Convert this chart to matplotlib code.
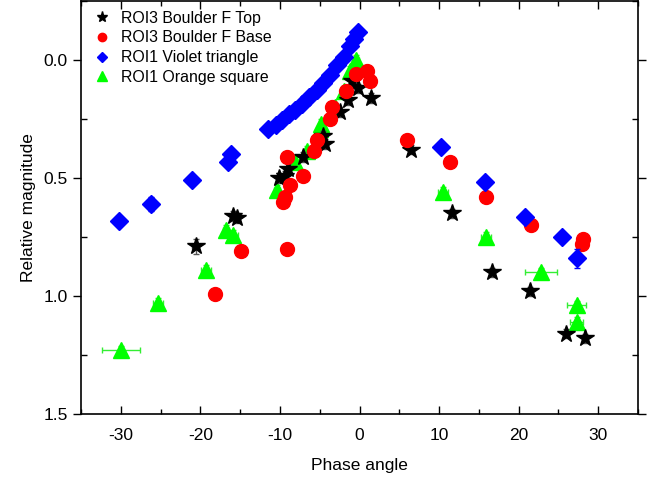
import matplotlib
matplotlib.use("Agg")
import matplotlib.pyplot as plt
from matplotlib.ticker import MultipleLocator
from matplotlib.lines import Line2D

plt.rcParams['font.family'] = ['Liberation Sans', 'DejaVu Sans']
plt.rcParams['axes.unicode_minus'] = False

# ROI3 Boulder F Top (black stars)
top_x = [-20.6, -15.9, -15.4, -10.1, -9.4, -9.0, -7.1, -4.6, -4.3, -2.5, -1.4, -1.0,
         -0.2, 1.4, 6.5, 11.6, 16.7, 21.4, 26.0, 28.3]
top_y = [0.79, 0.66, 0.67, 0.50, 0.49, 0.46, 0.41, 0.32, 0.355, 0.22, 0.17, 0.09,
         0.12, 0.16, 0.38, 0.65, 0.90, 0.98, 1.16, 1.18]
top_xerr = [0.4, 0.4, 0.4, 0.3, 0.3, 0.3, 0.3, 0.3, 0.3, 0.3, 0.3, 0.3,
            0.3, 0.3, 0.3, 0.3, 0.3, 0.3, 0.3, 0.3]
top_yerr = [0.03, 0.02, 0.02, 0.02, 0.02, 0.02, 0.02, 0.02, 0.02, 0.02, 0.02, 0.02,
            0.02, 0.02, 0.02, 0.02, 0.02, 0.02, 0.02, 0.02]

# ROI3 Boulder F Base (red circles)
base_x = [-18.1, -14.9, -9.6, -9.4, -9.1, -9.1, -8.7, -7.1, -5.7, -5.4, -3.7, -3.4,
          -1.7, -0.4, 0.9, 1.3, 6.0, 11.4, 15.9, 21.6, 28.0, 28.1]
base_y = [0.99, 0.81, 0.60, 0.58, 0.41, 0.80, 0.53, 0.49, 0.385, 0.34, 0.25, 0.20,
          0.13, 0.06, 0.046, 0.09, 0.34, 0.43, 0.58, 0.70, 0.78, 0.76]
base_xerr = [0.3, 0.3, 0.3, 0.3, 0.3, 0.3, 0.3, 0.3, 0.3, 0.3, 0.3, 0.3,
             0.3, 0.3, 0.3, 0.3, 0.3, 0.3, 0.3, 0.7, 0.7, 0.3]
base_yerr = [0.02] * 22

# ROI1 Violet triangle (blue diamonds)
violet_x = [-30.2, -26.2, -21.1, -16.5, -16.1, -11.5, -10.5, -9.7, -8.9, -8.1, -7.2,
            -6.4, -5.4, -4.6, -3.7, -2.8, -2.0, -1.2, -0.7, -0.2,
            10.3, 15.8, 20.8, 25.5, 27.3]
violet_y = [0.68, 0.61, 0.51, 0.43, 0.40, 0.29, 0.275, 0.255, 0.23, 0.21, 0.185,
            0.155, 0.125, 0.095, 0.065, 0.02, -0.015, -0.06, -0.09, -0.12,
            0.37, 0.515, 0.665, 0.75, 0.84]
violet_xerr = [0.3] * 25
violet_yerr = [0.02, 0.03, 0.02, 0.02, 0.02, 0.02, 0.02, 0.02, 0.02, 0.02, 0.02,
               0.02, 0.02, 0.02, 0.02, 0.02, 0.02, 0.02, 0.02, 0.02,
               0.02, 0.02, 0.02, 0.02, 0.04]

# ROI1 Orange square (green triangles)
orange_x = [-30.0, -25.3, -19.3, -16.8, -15.9, -10.4, -8.1, -6.6, -5.0, -4.8, -3.1,
            -2.0, -1.2, -0.4, 10.5, 15.9, 22.8, 27.3, 27.3]
orange_y = [1.23, 1.03, 0.89, 0.72, 0.74, 0.55, 0.43, 0.385, 0.29, 0.27, 0.20,
            0.13, 0.046, 0.00, 0.56, 0.75, 0.90, 1.04, 1.11]
orange_xerr = [2.4, 0.6, 0.6, 0.4, 0.6, 0.4, 0.3, 0.3, 0.3, 0.3, 0.3,
               0.3, 0.3, 0.3, 0.6, 0.6, 2.0, 1.2, 0.8]
orange_yerr = [0.02] * 19

fig = plt.figure(figsize=(6.6, 4.79), dpi=100)
ax = fig.add_axes([0.1227, 0.1357, 0.8440, 0.8620])

ek = dict(linestyle='none', elinewidth=1.0, capsize=2.5, capthick=1.0)
ax.errorbar(orange_x, orange_y, xerr=orange_xerr, yerr=orange_yerr, marker='^',
            ms=11, color='#00ff00', ecolor='#33ee33', zorder=2, **ek)
ax.errorbar(top_x, top_y, xerr=top_xerr, yerr=top_yerr, marker='*',
            ms=13, color='black', ecolor='#555555', zorder=3, **ek)
ax.errorbar(base_x, base_y, xerr=base_xerr, yerr=base_yerr, marker='o',
            ms=10, color='#ff0000', ecolor='#ff0000', zorder=4, **ek)
ax.errorbar(violet_x, violet_y, xerr=violet_xerr, yerr=violet_yerr, marker='D',
            ms=9, color='#0000ff', ecolor='#0000ff', zorder=5, **ek)

ax.set_xlim(-35, 35)
ax.set_ylim(1.5, -0.25)
ax.xaxis.set_major_locator(MultipleLocator(10))
ax.xaxis.set_minor_locator(MultipleLocator(5))
ax.yaxis.set_major_locator(MultipleLocator(0.5))
ax.yaxis.set_minor_locator(MultipleLocator(0.25))
ax.yaxis.set_major_formatter(matplotlib.ticker.FormatStrFormatter('%.1f'))

ax.tick_params(axis='x', which='both', direction='in', top=True, labelsize=12.5,
               pad=10)
ax.tick_params(axis='x', which='major', length=6, width=1)
ax.tick_params(axis='x', which='minor', length=3.5, width=1)
ax.tick_params(axis='y', which='major', direction='out', length=6, width=1,
               labelsize=12.5)
ax.tick_params(axis='y', which='minor', direction='in', length=4, width=1)
ax.tick_params(axis='y', which='both', right=True)
for s in ax.spines.values():
    s.set_linewidth(1.2)

ax.set_xlabel('Phase angle', fontsize=12.5, labelpad=11)
ax.set_ylabel('Relative magnitude', fontsize=12.5, labelpad=5)

handles = [
    Line2D([], [], marker='*', color='black', ls='none', ms=8),
    Line2D([], [], marker='o', color='#ff0000', ls='none', ms=6),
    Line2D([], [], marker='D', color='#0000ff', ls='none', ms=5.5),
    Line2D([], [], marker='^', color='#00ff00', ls='none', ms=6.5),
]
labels = ['ROI3 Boulder F Top', 'ROI3 Boulder F Base', 'ROI1 Violet triangle',
          'ROI1 Orange square']
ax.legend(handles, labels, loc='upper left', frameon=False, fontsize=11.4,
          handletextpad=0.5, handlelength=1.4, labelspacing=0.3,
          borderaxespad=0.2, bbox_to_anchor=(0.0, 1.0))

fig.savefig('out.png', dpi=100)
